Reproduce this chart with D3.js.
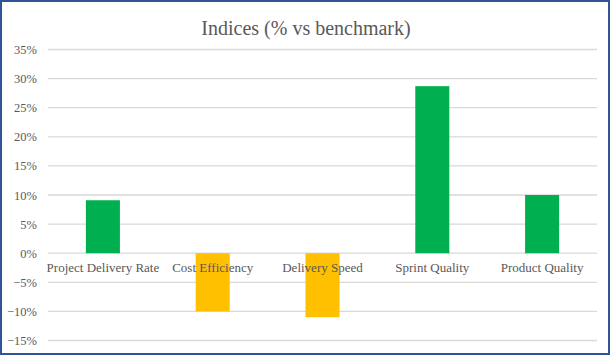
<!DOCTYPE html>
<html><head><meta charset="utf-8">
<script src="https://cdn.jsdelivr.net/npm/d3@7"></script>
<style>html,body{margin:0;padding:0;background:#fff;}svg{display:block;}</style>
</head><body>
<svg id="chart" width="612" height="356"></svg>
<script>
const categories = ["Project Delivery Rate", "Cost Efficiency", "Delivery Speed", "Sprint Quality", "Product Quality"];
const values = [0.091, -0.10, -0.11, 0.287, 0.10];
const tickValues = [-0.15, -0.10, -0.05, 0, 0.05, 0.10, 0.15, 0.20, 0.25, 0.30, 0.35];
const title = "Indices (% vs benchmark)";

const svg = d3.select("#chart");
const W = 612, H = 356;
const font = "'Liberation Serif', 'DejaVu Serif', serif";

svg.append("rect").attr("x", 1).attr("y", 1).attr("width", 608).attr("height", 353)
  .attr("fill", "#fff").attr("stroke", "#2F5597").attr("stroke-width", 2);

const x = d3.scaleBand().domain(categories).range([48, 597]).padding(0);
const y = d3.scaleLinear().domain([-0.15, 0.35]).range([340.5, 49.5]);

svg.append("text").attr("x", 306).attr("y", 35).attr("text-anchor", "middle")
  .attr("font-family", font).attr("font-size", 20).attr("fill", "#595959").text(title);

// gridlines
svg.append("g").selectAll("line").data(tickValues).join("line")
  .attr("x1", 48).attr("x2", 597)
  .attr("y1", d => y(d)).attr("y2", d => y(d))
  .attr("stroke", "#D9D9D9").attr("stroke-width", 1.3);

// y axis labels
const yAxis = d3.axisLeft(y).tickValues(tickValues).tickFormat(d3.format(".0%")).tickSize(0).tickPadding(0);
const ga = svg.append("g").attr("transform", "translate(37,0)").call(yAxis);
ga.select(".domain").remove();
ga.selectAll("text").attr("font-family", font).attr("font-size", 12.5).attr("fill", "#595959");

// bars
const bw = x.bandwidth() * 0.31;
svg.append("g").selectAll("rect").data(categories).join("rect")
  .attr("x", d => x(d) + x.bandwidth() / 2 - bw / 2)
  .attr("width", bw)
  .attr("y", (d, i) => y(Math.max(0, values[i])))
  .attr("height", (d, i) => Math.abs(y(values[i]) - y(0)))
  .attr("fill", (d, i) => values[i] >= 0 ? "#00B050" : "#FFC000");

// category labels
svg.append("g").selectAll("text").data(categories).join("text")
  .attr("x", d => x(d) + x.bandwidth() / 2)
  .attr("y", 272)
  .attr("text-anchor", "middle")
  .attr("font-family", font).attr("font-size", 13).attr("fill", "#595959")
  .text(d => d);
</script>
</body></html>
